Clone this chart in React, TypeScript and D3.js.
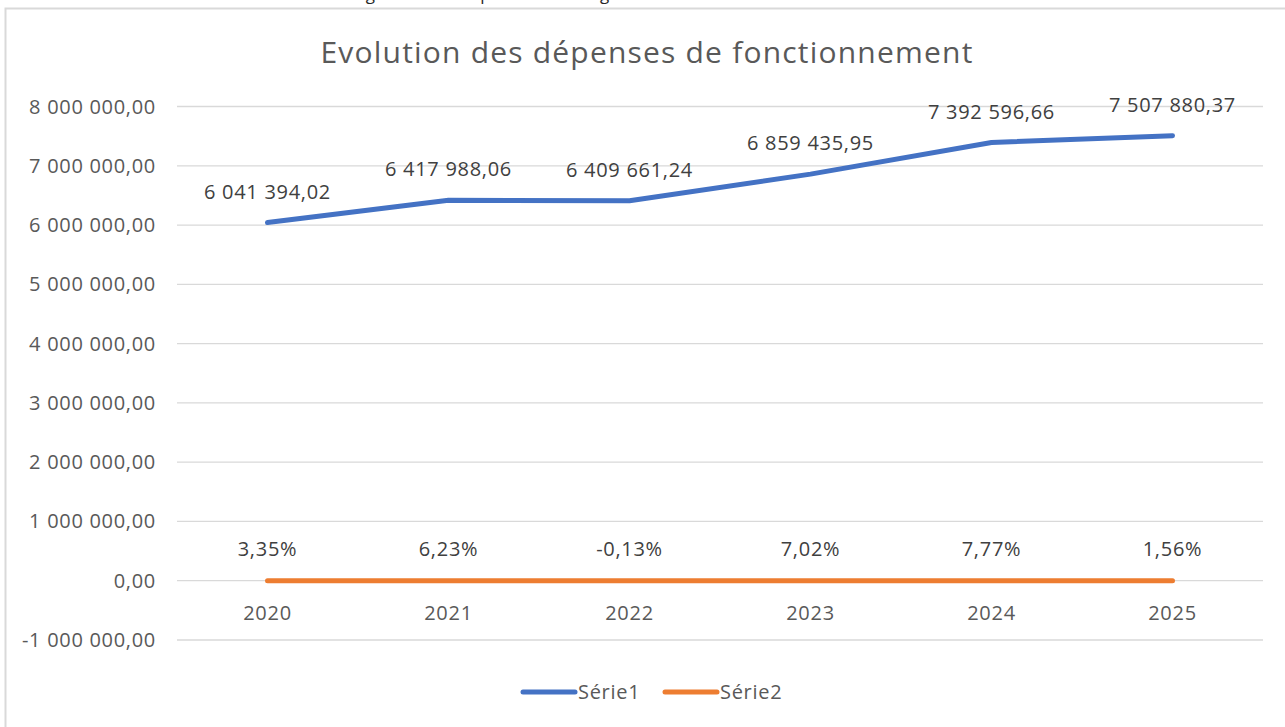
import React from "react";
import * as d3 from "d3";

const YEARS = ["2020", "2021", "2022", "2023", "2024", "2025"];
const SERIE1 = [6041394.02, 6417988.06, 6409661.24, 6859435.95, 7392596.66, 7507880.37];
const SERIE2 = [0.0335, 0.0623, -0.0013, 0.0702, 0.0777, 0.0156];
const Y_TICKS = [-1000000, 0, 1000000, 2000000, 3000000, 4000000, 5000000, 6000000, 7000000, 8000000];
const SERIES_NAMES = ["Série1", "Série2"];

const W = 1285;
const H = 727;
const FONT = "'Open Sans', sans-serif";
const FS = 20;
const LS = 0.7;
const AXIS_COLOR = "#595959";
const LABEL_COLOR = "#404040";
const GRID = "#d9d9d9";
const BLUE = "#4472C4";
const ORANGE = "#ED7D31";

// french style number: spaces for thousands, comma decimals
const frNum = (v: number) => {
  const s = d3.format(",.2f")(v);
  return s.replace(/,/g, " ").replace(".", ",").replace("−", "-");
};
const frPct = (v: number) => d3.format(".2%")(v).replace(".", ",").replace("−", "-");

const App = () => {
  const x = d3.scaleBand().domain(YEARS).range([177, 1263]);
  const y = d3.scaleLinear().domain([-1000000, 8000000]).range([640, 106.5]);
  const cx = (i: number) => (x(YEARS[i]) as number) + x.bandwidth() / 2;

  const line1 = d3
    .line<number>()
    .x((_, i) => cx(i))
    .y((d) => y(d));
  const line2 = d3
    .line<number>()
    .x((_, i) => cx(i))
    .y((d) => y(d));

  const txt = { fontFamily: FONT, fontSize: FS, letterSpacing: LS };

  return (
    <svg
      width={W}
      height={H}
      style={{ position: "absolute", left: 0, top: 0, display: "block", background: "#fff" }}
    >
      <text x={145} y={0} fontFamily={FONT} fontSize={17} fill="#262626">
        Tableau de l'évolution de la gestion des dépenses de la région
      </text>
      <rect x={5.5} y={8.5} width={1300} height={740} fill="#fff" stroke={GRID} strokeWidth={2} />

      <text
        x={647}
        y={63}
        textAnchor="middle"
        fontFamily={FONT}
        fontSize={30}
        letterSpacing={1.2}
        fill={AXIS_COLOR}
      >
        Evolution des dépenses de fonctionnement
      </text>

      {Y_TICKS.map((t) => (
        <g key={t}>
          <line x1={177} x2={1263} y1={y(t)} y2={y(t)} stroke={GRID} strokeWidth={1.3} />
          <text x={156} y={y(t)} dy="0.35em" textAnchor="end" {...txt} fill={AXIS_COLOR}>
            {frNum(t)}
          </text>
        </g>
      ))}

      {YEARS.map((yr, i) => (
        <text key={yr} x={cx(i)} y={620} textAnchor="middle" {...txt} fill={AXIS_COLOR}>
          {yr}
        </text>
      ))}

      <path
        d={line2(SERIE2) || ""}
        fill="none"
        stroke={ORANGE}
        strokeWidth={5}
        strokeLinecap="round"
        strokeLinejoin="round"
      />
      <path
        d={line1(SERIE1) || ""}
        fill="none"
        stroke={BLUE}
        strokeWidth={5}
        strokeLinecap="round"
        strokeLinejoin="round"
      />

      {SERIE1.map((v, i) => (
        <text key={"s1" + i} x={cx(i)} y={y(v) - 24} textAnchor="middle" {...txt} fill={LABEL_COLOR}>
          {frNum(v)}
        </text>
      ))}
      {SERIE2.map((v, i) => (
        <text key={"s2" + i} x={cx(i)} y={y(v) - 25} textAnchor="middle" {...txt} fill={LABEL_COLOR}>
          {frPct(v)}
        </text>
      ))}

      {SERIES_NAMES.map((name, i) => {
        const lx = 523 + i * 142;
        return (
          <g key={name}>
            <line
              x1={lx}
              x2={lx + 52}
              y1={692}
              y2={692}
              stroke={i === 0 ? BLUE : ORANGE}
              strokeWidth={5}
              strokeLinecap="round"
            />
            <text x={lx + 55} y={692} dy="0.35em" {...txt} fill={AXIS_COLOR}>
              {name}
            </text>
          </g>
        );
      })}
    </svg>
  );
};

export default App;
